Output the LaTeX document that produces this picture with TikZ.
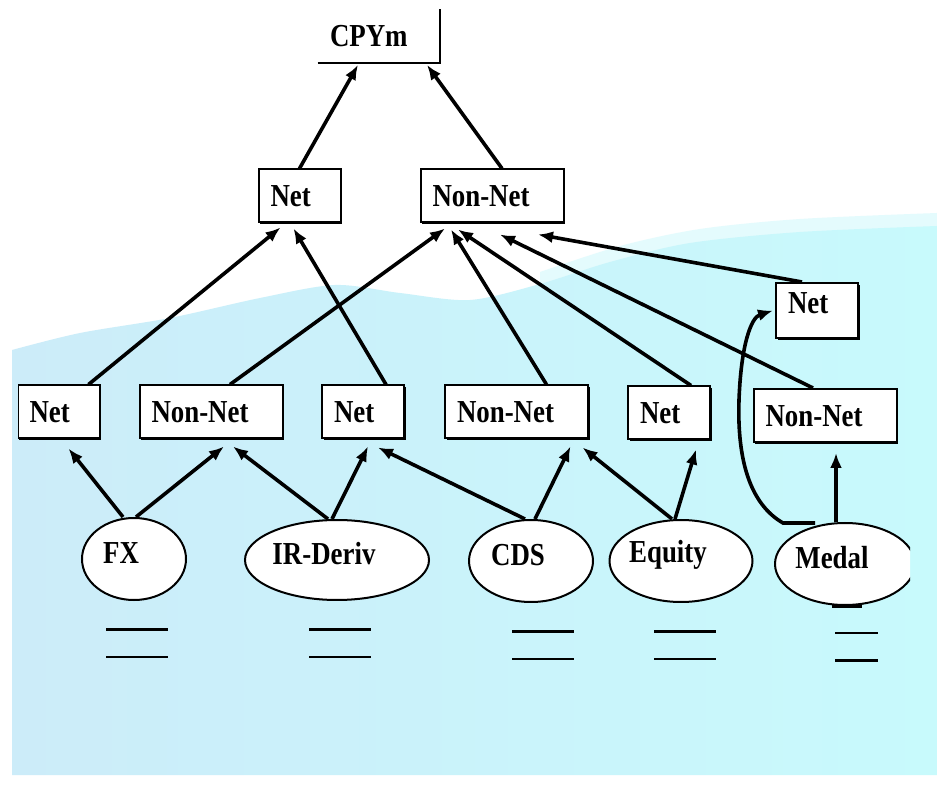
\documentclass[tikz,border=0pt]{standalone}
\usepackage{fontspec}
\newfontfamily\boxfont[FakeStretch=0.84]{Liberation Serif}
\usetikzlibrary{arrows.meta,calc,shapes.geometric,shadows}
\definecolor{skycyan}{RGB}{200,250,252}
\definecolor{skyblue}{RGB}{204,236,249}
\definecolor{hazecyan}{RGB}{228,251,253}
\tikzset{boxtext/.style={text width=#1, align=left, inner xsep=6pt, inner ysep=2pt, minimum height=26.5pt, text height=11pt, text depth=0pt, font={\fontsize{16}{18}\selectfont\boxfont\bfseries}}}
\tikzset{box/.style={boxtext=#1, draw, line width=1pt, fill=white, drop shadow={shadow xshift=0.8pt, shadow yshift=-0.8pt, opacity=1, fill=black}}}
\tikzset{netbox/.style={box=29pt}, nnbox/.style={box=59.5pt}}
\tikzset{leaf/.style={ellipse, draw, line width=1pt, fill=white, inner sep=0pt, minimum height=41pt, label={[font={\fontsize{16}{18}\selectfont\boxfont\bfseries}, xshift=-6.5pt, yshift=3pt]center:#1}}}
\tikzset{arr/.style={draw, line width=1.8pt, -{Latex[length=7.5pt,width=6pt]}}}

\begin{document}
\begin{tikzpicture}[x=0.5pt, y=-0.5pt]
  \useasboundingbox (0,0) rectangle (937,785);
  % backdrop
  \fill[white] (0,0) rectangle (937,785);
  \fill[hazecyan] plot[smooth] coordinates {(540,272) (620,246) (700,229) (800,219) (937,213)} -- (937,420) -- (540,420) -- cycle;
  \shade[left color=skyblue, right color=skycyan] plot[smooth] coordinates {(12,350) (80,333) (170,318) (260,298) (335,285) (400,293) (470,300) (540,284) (610,262) (690,243) (800,232) (937,226)} -- (937,775) -- (12,775) -- cycle;

  \begin{scope}
    \clip (18,0) rectangle (910,785);

    \node[boxtext=49pt] (cpym) at (379,36) {CPYm};
    \draw[line width=1pt] (cpym.south west) -- (cpym.south east) -- (cpym.north east);

    \node[netbox] (net0) at (299.5,196) {Net};
    \node[nnbox] (nn0) at (492,196) {Non-Net};
    \node[netbox, text depth=8pt, minimum height=27.5pt] (netR) at (817,310.5) {Net};

    \node[netbox] (net1) at (58.5,412) {Net};
    \node[nnbox] (nn1) at (211,412) {Non-Net};
    \node[netbox] (net2) at (363,412) {Net};
    \node[nnbox] (nn2) at (516.5,412) {Non-Net};
    \node[netbox] (net3) at (669,413) {Net};
    \node[nnbox] (nn3) at (825,415.5) {Non-Net};

    \node[leaf=FX, minimum width=52pt] (fx) at (134,559) {};
    \node[leaf=IR-Deriv, minimum width=92pt, minimum height=40pt] (ird) at (337,560) {};
    \node[leaf=CDS, minimum width=62pt] (cds) at (531,561) {};
    \node[leaf=Equity, minimum width=71.5pt] (eqt) at (681,561) {};
    \node[leaf=Medal, minimum width=70pt] (med) at (845,564) {};

    % up to CPYm
    \draw[arr] (net0.north) -- ($(cpym.south)+(-21,2)$);
    \draw[arr] ($(nn0.north)+(10,0)$) -- ($(cpym.south)+(48,2)$);

    % middle row
    \draw[arr] ($(net1.north east)+(-12,0)$) -- ($(net0.south)+(-19,4)$);
    \draw[arr] ($(net2.north east)+(-19,0)$) -- ($(net0.south)+(-6,5)$);
    \draw[arr] ($(nn1.north)+(19,0)$) -- ($(nn0.south)+(-47,5)$);
    \draw[arr] ($(nn2.north)+(30,0)$) -- ($(nn0.south)+(-41,6)$);
    \draw[arr] ($(net3.north east)+(-20,0)$) -- ($(nn0.south)+(-34,6)$);
    \draw[arr] ($(nn3.north)+(-12,0)$) -- ($(nn0.south)+(8,11)$);
    \draw[arr] ($(netR.north west)+(27,0)$) -- ($(nn0.south)+(46,11)$);

    % products
    \draw[arr] ($(fx.north)+(-11,0)$) -- ($(net1.south east)+(-32,9)$);
    \draw[arr] ($(fx.north)+(2,0)$) -- ($(nn1.south)+(13,7)$);
    \draw[arr] ($(ird.north)+(-9,0)$) -- ($(nn1.south)+(22,7)$);
    \draw[arr] ($(ird.north)+(-5,0)$) -- ($(net2.south)+(5,7)$);
    \draw[arr] ($(cds.north)+(-6,0)$) -- ($(net2.south)+(15,8)$);
    \draw[arr] ($(cds.north)+(4,0)$) -- ($(nn2.south)+(54,7)$);
    \draw[arr] ($(eqt.north)+(-9,0)$) -- ($(nn2.south)+(66,8)$);
    \draw[arr] ($(eqt.north)+(-6,0)$) -- ($(net3.south)+(27,9)$);
    \draw[arr] ($(med.north)+(-9,0)$) -- ($(nn3.south)+(11,10)$);
    \draw[arr] ($(med.north)+(-30,1)$) -- ++(-32,0) .. controls +(-33,-19) and +(-2,60) .. (739,400) .. controls +(2,-55) and +(-22,7) .. ($(netR.west)+(-2,0)$);

    % blanks under the products
    \foreach \n/\d in {fx/-28, ird/-28, cds/-19, eqt/-27} {
      \draw[line width=1.5pt] ($(\n.south)+(\d,29)$) -- ++(62,0);
      \draw[line width=1pt] ($(\n.south)+(\d,56)$) -- ++(62,0);
    }
    \draw[line width=2pt] ($(med.south)+(-13,0)$) -- ++(30,0);
    \draw[line width=1pt] ($(med.south)+(-10,27)$) -- ++(43,0);
    \draw[line width=1.5pt] ($(med.south)+(-10,54)$) -- ++(43,0);
  \end{scope}
\end{tikzpicture}
\end{document}
